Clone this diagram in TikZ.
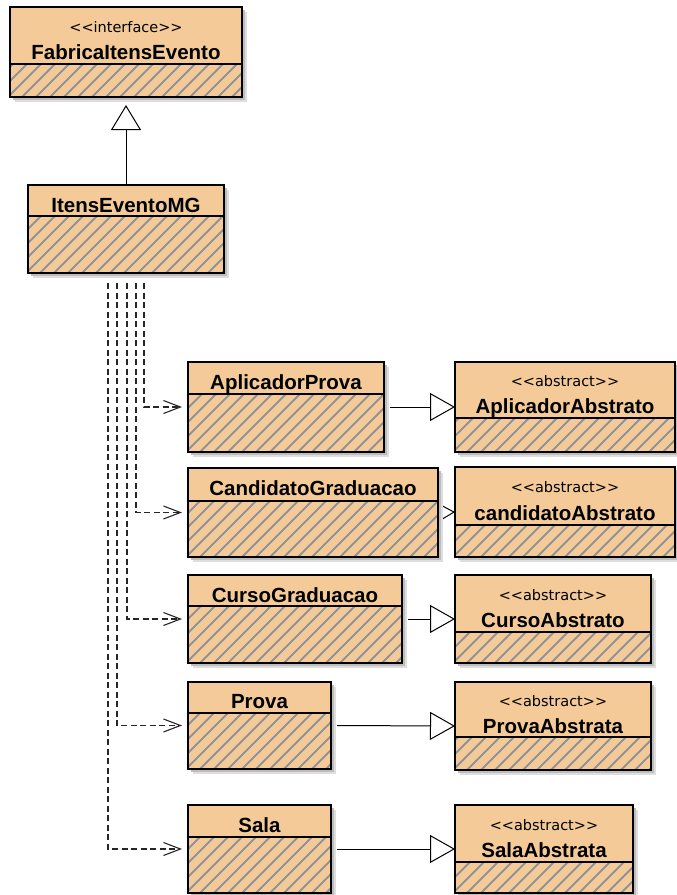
\documentclass[tikz,border=0pt]{standalone}
\usepackage{fontspec}
\usetikzlibrary{arrows.meta}
\newfontfamily\stereofont{DejaVu Sans}[Ligatures=TeXOff]
\newfontfamily\namefont{Liberation Sans}[Ligatures=TeXOff]
\definecolor{classfill}{RGB}{244,203,152}
\definecolor{hatchgray}{RGB}{146,146,150}
\pgfdeclarelayer{back}
\pgfsetlayers{back,main}

\tikzset{
  classnode/.style={rectangle, fill=classfill, draw=none, inner sep=0pt, outer sep=0pt},
  border/.style={draw=black, line width=1.2pt},
  hatch/.style={draw=hatchgray, line width=2pt},
  stereo/.style={font=\stereofont\fontsize{14.5}{16}\selectfont, inner sep=0pt, anchor=base},
  cname/.style={font=\namefont\bfseries\fontsize{20.5}{24}\selectfont, inner sep=0pt, anchor=base},
  dep/.style={draw=black!85, line width=1.1pt, dash pattern=on 6pt off 3.5pt, shorten >=6pt,
    -{Straight Barb[length=17pt,width=13pt,line width=1.1pt]}},
  real/.style={line width=1pt, -{Triangle[length=25pt,width=28pt,fill=white,line width=1pt]}},
  gen/.style={line width=1pt, shorten >=8pt, -{Triangle[length=25pt,width=30pt,fill=white,line width=1pt]}}
}

% class box: #1 name, #2 left, #3 top, #4 width, #5 height, #6 header height
\newcommand\classbox[6]{%
  \fill[black!13] (#2+5,#3+5) rectangle ++(#4,#5);
  \fill[black!26] (#2+3,#3+3) rectangle ++(#4,#5);
  \node[classnode, minimum width=#4pt, minimum height=#5pt, anchor=north west] (#1) at (#2,#3) {};
  \begin{scope}
    \clip (#2,#3+#6) rectangle ++(#4,#5-#6);
    \foreach \k in {-100,-86,...,280}
      \draw[hatch] (#2+\k,#3+#5) -- ++(100,-100);
  \end{scope}
  \draw[border] (#1.north west) rectangle (#1.south east);
  \draw[border] (#2,#3+#6) -- ++(#4,0);
}

\begin{document}
\begin{tikzpicture}[x=1pt, y=-1pt]
  \useasboundingbox (0,0) rectangle (677,895);

  % interface and its implementation
  \classbox{fab}{10}{7}{232}{90}{57}
  \node[stereo] (fab-s) at ([yshift=-25pt]fab.north) {<<interface>>};
  \node[cname]  (fab-n) at ([yshift=-52pt]fab.north) {FabricaItensEvento};

  \classbox{mg}{28}{185}{196}{88}{31}
  \node[cname] (mg-n) at ([yshift=-27pt]mg.north) {ItensEventoMG};

  % concrete products
  \classbox{apl}{188}{362}{196}{90}{32}
  \node[cname] (apl-n) at ([yshift=-27pt]apl.north) {AplicadorProva};

  \classbox{cand}{188}{468}{250}{89}{33}
  \node[cname] (cand-n) at ([yshift=-27pt]cand.north) {CandidatoGraduacao};

  \classbox{curso}{188}{575}{214}{88}{31}
  \node[cname] (curso-n) at ([yshift=-27pt]curso.north) {CursoGraduacao};

  \classbox{prova}{188}{682}{143}{87}{31}
  \node[cname] (prova-n) at ([yshift=-26pt]prova.north) {Prova};

  \classbox{sala}{188}{805}{143}{88}{32}
  \node[cname] (sala-n) at ([yshift=-27pt]sala.north) {Sala};

  % abstract products
  \classbox{aplA}{455}{362}{220}{90}{56}
  \node[stereo] (aplA-s) at ([yshift=-24pt]aplA.north) {<<abstract>>};
  \node[cname]  (aplA-n) at ([yshift=-51pt]aplA.north) {AplicadorAbstrato};

  \classbox{candA}{455}{467}{220}{90}{58}
  \node[stereo] (candA-s) at ([yshift=-25pt]candA.north) {<<abstract>>};
  \node[cname]  (candA-n) at ([yshift=-53pt]candA.north) {candidatoAbstrato};

  \classbox{cursoA}{455}{575}{196}{88}{57}
  \node[stereo] (cursoA-s) at ([yshift=-25pt]cursoA.north) {<<abstract>>};
  \node[cname]  (cursoA-n) at ([yshift=-52pt]cursoA.north) {CursoAbstrato};

  \classbox{provaA}{455}{682}{196}{88}{55}
  \node[stereo] (provaA-s) at ([yshift=-24pt]provaA.north) {<<abstract>>};
  \node[cname]  (provaA-n) at ([yshift=-51pt]provaA.north) {ProvaAbstrata};

  \classbox{salaA}{455}{805}{178}{88}{57}
  \node[stereo] (salaA-s) at ([yshift=-25pt]salaA.north) {<<abstract>>};
  \node[cname]  (salaA-n) at ([yshift=-52pt]salaA.north) {SalaAbstrata};

  % start points of the dependency lines below ItensEventoMG
  \coordinate (d1) at (108,283);
  \coordinate (d2) at (117,283);
  \coordinate (d3) at (127,283);
  \coordinate (d4) at (136,283);
  \coordinate (d5) at (144,283);

  \begin{pgfonlayer}{back}
    \draw[gen] (mg.north) -- (fab.south);

    \draw[dep] (d5) |- (apl.west);
    \draw[dep] (d4) |- (cand.west);
    \draw[dep] (d3) |- (curso.west);
    \draw[dep] (d2) |- (prova.west);
    \draw[dep] (d1) |- (sala.west);

    \draw[real, shorten <=6pt] (apl.east) -- (aplA.west);
    \draw[real] (cand.east) -- (candA.west);
    \draw[real, shorten <=6pt] (curso.east) -- (cursoA.west);
    \draw[real, shorten <=6pt] (prova.east) -- (provaA.west);
    \draw[real, shorten <=6pt] (sala.east) -- (salaA.west);
  \end{pgfonlayer}
\end{tikzpicture}
\end{document}
